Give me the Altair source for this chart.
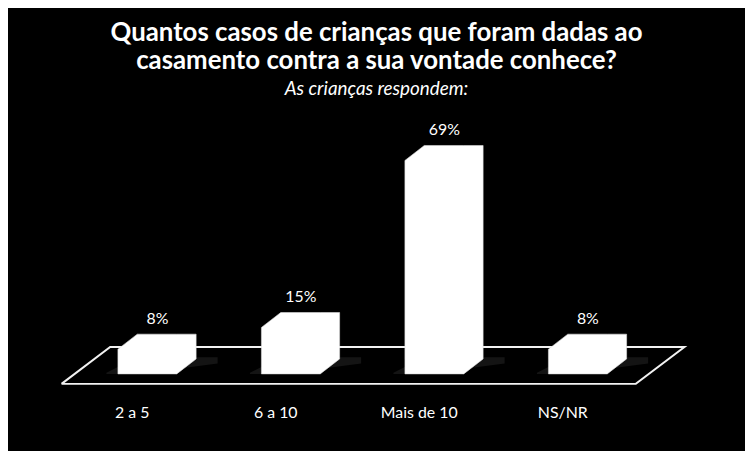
import altair as alt
import pandas as pd

categories = ["2 a 5", "6 a 10", "Mais de 10", "NS/NR"]
values = [8, 15, 69, 8]
value_labels = ["8%", "15%", "69%", "8%"]

title_lines = ["Quantos casos de crianças que foram dadas ao",
               "casamento contra a sua vontade conhece?"]
subtitle = "As crianças respondem:"

# 3-D geometry in data units (category index on x, percent on y)
HALF_W = 0.205   # half width of a bar's front face
DX = 0.135       # depth offset along x
DY = 4.84        # depth offset along y
FLOOR_L, FLOOR_R = -0.598, 3.404
FLOOR_FRONT, FLOOR_BACK = -3.23, 8.7
FLOOR_DX = 0.339

bar_rows = []
shadow_rows = []
for i, (c, v) in enumerate(zip(categories, values)):
    L, R = i - HALF_W, i + HALF_W
    bar_rows += [
        {"cat": c, "x": L, "top": v, "bot": 0},
        {"cat": c, "x": L + DX, "top": v + DY, "bot": 0},
        {"cat": c, "x": R, "top": v + DY, "bot": 0},
        {"cat": c, "x": R + DX, "top": v + DY, "bot": DY},
    ]
    shadow_rows += [
        {"cat": c, "x": L - 0.08, "top": 0.4, "bot": 0},
        {"cat": c, "x": L + DX, "top": DY + 0.5, "bot": 0},
        {"cat": c, "x": R + DX + 0.15, "top": DY + 0.5, "bot": DY * 0.7},
    ]
bars = pd.DataFrame(bar_rows)
shadows = pd.DataFrame(shadow_rows)

floor = pd.DataFrame({
    "x": [FLOOR_L, FLOOR_R, FLOOR_R + FLOOR_DX, FLOOR_L + FLOOR_DX, FLOOR_L],
    "y": [FLOOR_FRONT, FLOOR_FRONT, FLOOR_BACK, FLOOR_BACK, FLOOR_FRONT],
    "o": [0, 1, 2, 3, 4],
})

labels = pd.DataFrame({
    "cat": categories,
    "x": [i + 0.07 for i in range(4)],
    "y": [v + DY + 4.9 for v in values],
    "lab": value_labels,
})
cat_labels = pd.DataFrame({
    "cat": categories,
    "x": [i - 0.105 for i in range(4)],
    "y": [-12.6] * 4,
})

xs = alt.Scale(domain=[-0.971, 4.165], nice=False, zero=False)
ys = alt.Scale(domain=[-25, 85], nice=False, zero=False)
X = lambda f: alt.X(f, type="quantitative", scale=xs, axis=None)
Y = lambda f: alt.Y(f, type="quantitative", scale=ys, axis=None)

shadow_layer = alt.Chart(shadows).mark_area(color="#666666", opacity=0.2).encode(
    x=X("x"), y=Y("top"), y2="bot", detail="cat:N"
)
floor_layer = alt.Chart(floor).mark_line(color="#f2f2f2", strokeWidth=2).encode(
    x=X("x"), y=Y("y"), order="o:Q"
)
bar_layer = alt.Chart(bars).mark_area(color="white", stroke="#dddddd", strokeWidth=0.6).encode(
    x=X("x"), y=Y("top"), y2="bot", detail="cat:N"
)
val_layer = alt.Chart(labels).mark_text(
    color="white", font="Lato", fontSize=16, baseline="middle", align="center"
).encode(x=X("x"), y=Y("y"), text="lab:N")
cat_layer = alt.Chart(cat_labels).mark_text(
    color="white", font="Lato", fontSize=16, baseline="middle", align="center"
).encode(x=X("x"), y=Y("y"), text="cat:N")

chart = alt.layer(shadow_layer, floor_layer, bar_layer, val_layer, cat_layer).properties(
    width=743,
    height=343,
    padding={"left": 0, "top": 102, "right": 0, "bottom": 0},
    autosize=alt.AutoSizeParams(type="none"),
    background="black",
    title=alt.TitleParams(
        text=title_lines,
        subtitle=subtitle,
        color="white",
        font="Lato",
        fontSize=26,
        fontWeight="bold",
        lineHeight=29,
        subtitleColor="white",
        subtitleFont="Lato",
        subtitleFontSize=19,
        subtitleFontStyle="italic",
        subtitlePadding=6,
        anchor="middle",
        offset=12,
    ),
).configure_view(stroke=None)

chart.save("out.html", embed_options={"renderer": "svg", "actions": False})
